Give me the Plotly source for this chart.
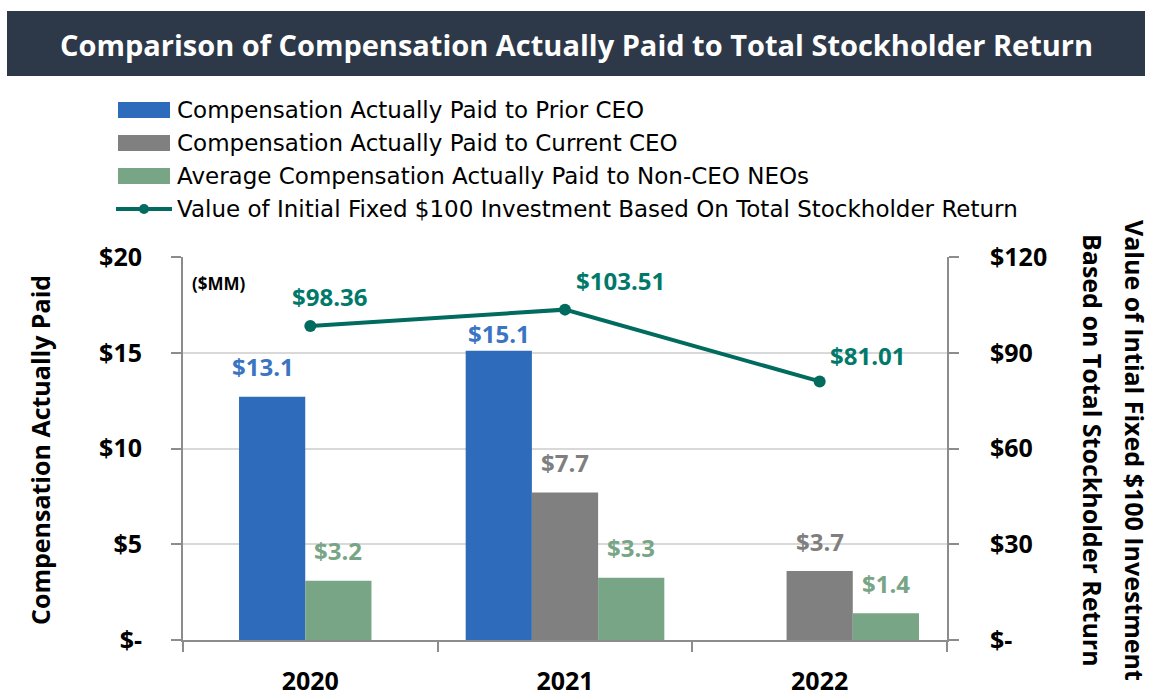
import plotly.graph_objects as go

# ---------------- data ----------------
years = ["2020", "2021", "2022"]
prior_ceo = [12.7, 15.1, None]
current_ceo = [None, 7.7, 3.6]
non_ceo_neos = [3.1, 3.25, 1.4]
prior_ceo_labels = ["$13.1", "$15.1", ""]
current_ceo_labels = ["", "$7.7", "$3.7"]
non_ceo_labels = ["$3.2", "$3.3", "$1.4"]
tsr_values = [98.36, 103.51, 81.01]
tsr_labels = ["$98.36", "$103.51", "$81.01"]
left_ticks = [0, 5, 10, 15, 20]
left_ticktext = ["$-", "$5", "$10", "$15", "$20"]
right_ticks = [0, 30, 60, 90, 120]
right_ticktext = ["$-", "$30", "$60", "$90", "$120"]
series_names = [
    "Compensation Actually Paid to Prior CEO",
    "Compensation Actually Paid to Current CEO",
    "Average Compensation Actually Paid to Non-CEO NEOs",
    "Value of Initial Fixed $100 Investment Based On Total Stockholder Return",
]
right_title_lines = ["Value of Intial Fixed $100 Investment", "Based on Total Stockholder Return"]

# ---------------- style ----------------
W, H = 1153, 696
L, R, T, B = 183, 947, 257, 640
FONT = "Open Sans"
LEG_FONT = "DejaVu Sans"
BLUE, GRAY, GREEN, TEAL = "#2e6bba", "#808080", "#78a585", "#006b5e"
BLUE_T, GRAY_T, GREEN_T, TEAL_T = "#3a74c2", "#7f7f7f", "#78a585", "#00796a"
BAR_W = 0.26
prior_off = [-0.28, -0.39, 0.0]
current_off = [0.0, -0.13, -0.13]
neo_off = [-0.02, 0.13, 0.13]


def px_x(p):
    return (p - L) / (R - L)


def px_y(p):
    return (B - p) / (B - T)


fig = go.Figure()
bar_specs = [
    (prior_ceo, prior_off, BLUE, BLUE_T, prior_ceo_labels, series_names[0]),
    (current_ceo, current_off, GRAY, GRAY_T, current_ceo_labels, series_names[1]),
    (non_ceo_neos, neo_off, GREEN, GREEN_T, non_ceo_labels, series_names[2]),
]
annotations = []
for vals, offs, col, tcol, labs, name in bar_specs:
    fig.add_trace(go.Bar(
        x=years, y=vals, offset=offs, width=BAR_W, marker_color=col,
        marker_line_width=0, name=name, showlegend=False, yaxis="y",
    ))
    for i, (v, o, lab) in enumerate(zip(vals, offs, labs)):
        if v is None or not lab:
            continue
        annotations.append(dict(
            x=i + o + BAR_W / 2, y=v, xref="x", yref="y", text="<b>" + lab + "</b>",
            showarrow=False, yanchor="middle", yshift=17 if v > 15 else 30,
            xshift=-9 if v > 12 and v < 15 else 0,
            font=dict(family=FONT, size=24, color=tcol),
        ))

fig.add_trace(go.Scatter(
    x=years, y=tsr_values, mode="lines+markers", yaxis="y2",
    line=dict(color=TEAL, width=4), marker=dict(color=TEAL, size=12),
    name=series_names[3], showlegend=False,
))
tsr_shift = [(19, 30), (55, 29), (48, 26)]
for i, (v, lab) in enumerate(zip(tsr_values, tsr_labels)):
    annotations.append(dict(
        x=i, y=v, xref="x", yref="y2", text="<b>" + lab + "</b>", showarrow=False,
        xshift=tsr_shift[i][0], yshift=tsr_shift[i][1],
        font=dict(family=FONT, size=24, color=TEAL_T),
    ))

shapes = []
# title banner
shapes.append(dict(type="rect", xref="paper", yref="paper",
                   x0=px_x(7), x1=px_x(1145), y0=px_y(76), y1=px_y(11),
                   fillcolor="#2d3849", line_width=0, layer="below"))
annotations.append(dict(
    xref="paper", yref="paper", x=px_x(576), y=px_y(44),
    text="<b>Comparison of Compensation Actually Paid to Total Stockholder Return</b>",
    showarrow=False, font=dict(family=FONT, size=29, color="white"),
    xanchor="center", yanchor="middle",
))

# custom legend
legend_rows = [110, 143, 176, 209]
for k, (name, yrow) in enumerate(zip(series_names, legend_rows)):
    if k < 3:
        col = [BLUE, GRAY, GREEN][k]
        shapes.append(dict(type="rect", xref="paper", yref="paper",
                           x0=px_x(118), x1=px_x(170), y0=px_y(yrow + 8), y1=px_y(yrow - 8),
                           fillcolor=col, line_width=0))
    else:
        shapes.append(dict(type="line", xref="paper", yref="paper",
                           x0=px_x(116), x1=px_x(172), y0=px_y(yrow), y1=px_y(yrow),
                           line=dict(color=TEAL, width=4)))
        shapes.append(dict(type="circle", xref="paper", yref="paper",
                           x0=px_x(139), x1=px_x(149), y0=px_y(yrow + 5), y1=px_y(yrow - 5),
                           fillcolor=TEAL, line_width=0))
    annotations.append(dict(
        xref="paper", yref="paper", x=px_x(175), y=px_y(yrow), text=name,
        showarrow=False, xanchor="left", yanchor="middle",
        font=dict(family=LEG_FONT, size=23, color="black"),
    ))

# ($MM)
annotations.append(dict(xref="paper", yref="paper", x=px_x(190), y=px_y(283),
                        text="<b>($MM)</b>", showarrow=False, xanchor="left",
                        yanchor="middle", font=dict(family=FONT, size=17, color="black")))
# axis titles
annotations.append(dict(xref="paper", yref="paper", x=px_x(40), y=px_y(450),
                        text="<b>Compensation Actually Paid</b>", textangle=-90,
                        showarrow=False, xanchor="center", yanchor="middle",
                        font=dict(family=FONT, size=25, color="black")))
for txt, xp in zip(right_title_lines, [1135, 1093]):
    annotations.append(dict(xref="paper", yref="paper", x=px_x(xp), y=px_y(450),
                            text="<b>" + txt + "</b>",
                            textangle=90, showarrow=False, xanchor="center", yanchor="middle",
                            font=dict(family=FONT, size=25, color="black")))

axis_line = "#8c8c8c"
tickfont = dict(family=FONT, size=25, color="black", weight="bold")
fig.update_layout(
    width=W, height=H,
    margin=dict(l=L, r=W - R, t=T, b=H - B, pad=0, autoexpand=False),
    paper_bgcolor="white", plot_bgcolor="white",
    barmode="overlay",
    showlegend=False,
    font=dict(family=FONT, color="black"),
    xaxis=dict(type="category", range=[-0.5, 2.5], tickson="boundaries",
               ticks="outside", ticklen=10, tickcolor=axis_line, tickwidth=2,
               showline=True, linecolor=axis_line, linewidth=2, automargin=False,
               showgrid=False, tickfont=tickfont, ticklabelstandoff=18),
    yaxis=dict(range=[0, 20], tickvals=left_ticks, ticktext=left_ticktext,
               ticks="outside", ticklen=10, tickcolor=axis_line, tickwidth=2,
               showline=True, linecolor=axis_line, linewidth=2, automargin=False,
               showgrid=True, gridcolor="#d9d9d9", gridwidth=2, zeroline=False,
               tickfont=tickfont, ticklabelstandoff=24),
    yaxis2=dict(range=[0, 120], tickvals=right_ticks, ticktext=right_ticktext,
                overlaying="y", side="right", automargin=False,
                ticks="outside", ticklen=10, tickcolor=axis_line, tickwidth=2,
                showline=True, linecolor=axis_line, linewidth=2,
                showgrid=False, zeroline=False,
                tickfont=tickfont, ticklabelstandoff=26),
    shapes=shapes,
    annotations=annotations,
)

fig.write_html("out.html", config={"displayModeBar": False},
               post_script="document.body.style.margin='0';")
